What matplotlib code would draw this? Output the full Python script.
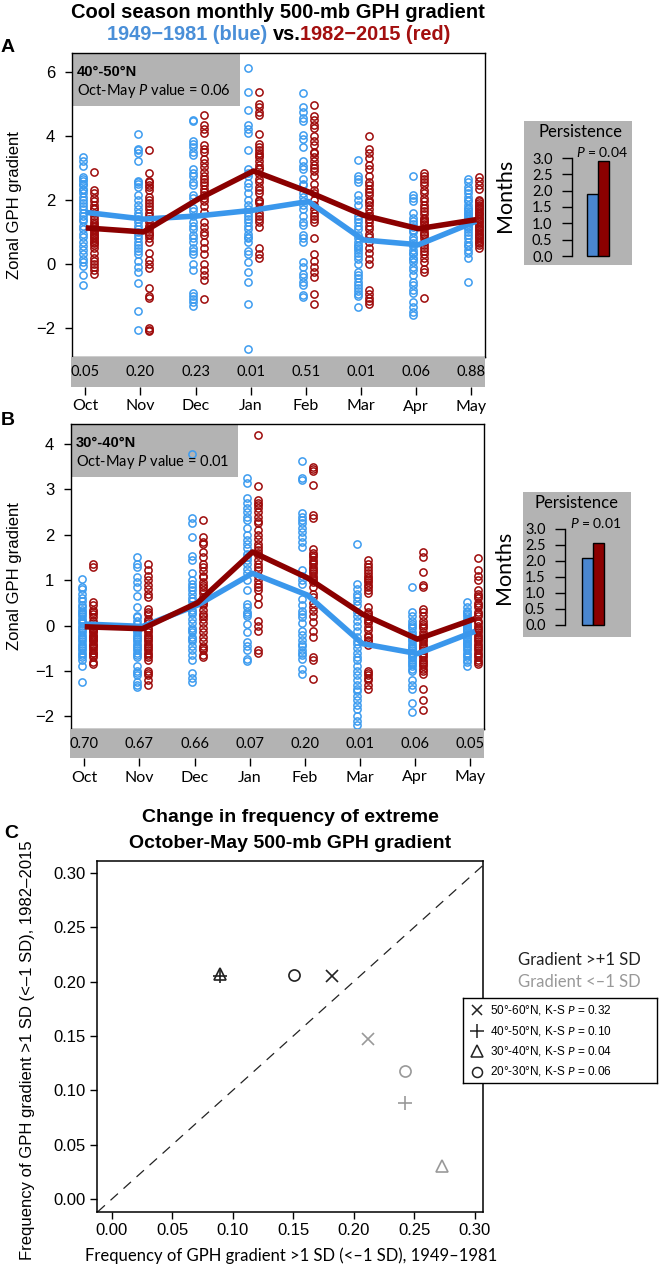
import matplotlib
matplotlib.use('Agg')
import matplotlib.pyplot as plt
from matplotlib.patches import Rectangle
import numpy as np

plt.rcParams['font.family'] = ['Liberation Sans', 'DejaVu Sans']
plt.rcParams['mathtext.fontset'] = 'custom'
plt.rcParams['mathtext.it'] = 'Lato:italic'
plt.rcParams['mathtext.rm'] = 'Lato'

HUM = ['Lato', 'DejaVu Sans']   # humanist face for the Myriad-looking labels
W, H = 660, 1269
GRAY = '#b3b3b3'
BLUE_DOT, RED_DOT = '#3d9cf0', '#9e0b0b'
BLUE_LINE, RED_LINE = '#3a97ec', '#8b0000'

months = ['Oct', 'Nov', 'Dec', 'Jan', 'Feb', 'Mar', 'Apr', 'May']

# ---- panel A, 40-50N: yearly values per month, 1949-1981 (blue) and 1982-2015 (red)
a_blue = [
    [3.35, 3.2, 3.05, 2.7, 2.65, 2.6, 2.5, 2.45, 2.35, 2.2, 2.1, 2.0, 1.9, 1.8, 1.7, 1.6, 1.5,
     1.4, 1.35, 1.2, 1.1, 0.95, 0.85, 0.7, 0.55, 0.45, 0.3, 0.15, 0.05, -0.05, -0.35, -0.65, 2.3],
    [4.05, 3.6, 3.55, 3.45, 3.2, 2.6, 2.5, 2.4, 2.15, 2.0, 1.85, 1.7, 1.6, 1.5, 1.4, 1.3, 1.2,
     1.1, 1.0, 0.9, 0.8, 0.7, 0.6, 0.5, 0.4, 0.3, 0.1, -0.1, -0.25, -0.6, -1.45, -2.05, 2.55],
    [4.5, 4.45, 3.85, 3.75, 3.65, 3.5, 3.4, 2.95, 2.85, 2.75, 2.55, 2.45, 2.15, 2.05, 1.75, 1.65,
     1.3, 1.2, 1.1, 0.9, 0.8, 0.7, 0.5, 0.4, 0.3, 0.0, -0.2, -0.9, -1.0, -1.1, -1.2, -1.3, 1.5],
    [6.1, 5.37, 4.8, 4.33, 4.2, 4.1, 3.55, 2.95, 2.85, 2.75, 2.53, 2.4, 2.2, 2.0, 1.85, 1.7, 1.6,
     1.5, 1.4, 1.3, 1.1, 0.95, 0.85, 0.8, 0.7, 0.4, 0.3, 0.07, -0.25, -0.55, -1.24, -2.65, 1.2],
    [5.32, 4.9, 4.75, 4.55, 4.45, 4.03, 3.9, 3.65, 3.2, 3.05, 2.95, 2.65, 2.45, 2.22, 2.1, 1.95,
     1.83, 1.7, 1.32, 1.22, 0.9, 0.8, 0.7, 0.05, -0.1, -0.3, -0.4, -0.55, -0.65, -0.98, -1.03, 1.5, 2.5],
    [3.25, 2.75, 2.65, 2.55, 2.15, 2.0, 1.83, 1.5, 1.4, 1.32, 0.9, 0.8, 0.7, 0.6, 0.5, 0.45, 0.35,
     0.25, 0.15, 0.0, -0.25, -0.35, -0.45, -0.55, -0.65, -0.75, -0.85, -0.95, -1.0, -1.35, 1.1, 0.55, 1.2],
    [2.75, 2.15, 2.05, 1.95, 1.45, 1.35, 1.25, 1.15, 1.05, 1.0, 0.85, 0.75, 0.65, 0.55, 0.45, 0.35,
     0.3, 0.15, 0.05, -0.1, -0.2, -0.35, -0.55, -0.65, -0.8, -0.9, -1.2, -1.35, -1.5, -1.6, 0.6, 0.2, 1.6],
    [2.65, 2.55, 2.4, 2.3, 2.2, 2.1, 1.95, 1.85, 1.75, 1.7, 1.6, 1.55, 1.5, 1.45, 1.4, 1.35, 1.3,
     1.25, 1.2, 1.15, 1.1, 0.9, 0.8, 0.7, 0.55, 0.45, 0.35, 0.2, -0.55, 1.0, 1.65, 2.0, 0.6],
]
a_red = [
    [2.88, 2.3, 2.2, 2.05, 1.95, 1.85, 1.75, 1.6, 1.5, 1.4, 1.3, 1.25, 1.2, 1.15, 1.1, 1.05, 1.0,
     0.95, 0.9, 0.85, 0.8, 0.75, 0.7, 0.65, 0.6, 0.5, 0.35, 0.2, 0.1, 0.0, -0.1, -0.2, -0.3, 1.7],
    [3.57, 2.83, 2.6, 2.55, 2.45, 2.4, 2.1, 2.0, 1.9, 1.8, 1.7, 1.6, 1.5, 1.3, 1.2, 1.1, 0.9, 0.8,
     0.7, 0.33, 0.13, 0.0, -0.12, -0.75, -1.07, -1.0, -2.0, -2.05, -2.1, 1.0, 1.15, 0.95, 2.3, 1.4],
    [4.65, 4.33, 4.2, 4.1, 3.7, 3.6, 3.5, 3.28, 3.15, 3.03, 2.88, 2.75, 2.65, 2.55, 2.45, 2.35, 2.25,
     1.95, 1.8, 1.63, 1.3, 1.15, 1.0, 0.9, 0.7, 0.5, 0.3, 0.0, -0.2, -0.35, -0.5, -1.1, 2.05, 2.15],
    [5.37, 5.0, 4.9, 4.75, 4.65, 4.05, 3.75, 3.65, 3.55, 3.45, 3.4, 3.2, 3.1, 3.0, 2.95, 2.65, 2.55,
     2.3, 2.2, 2.0, 1.95, 1.9, 1.74, 1.6, 1.5, 1.4, 1.32, 1.15, 0.5, 0.3, 0.2, 3.35, 2.8, 2.4],
    [4.95, 4.6, 4.5, 4.35, 4.25, 3.98, 3.85, 3.7, 3.5, 3.35, 3.2, 3.1, 3.0, 2.9, 2.75, 2.3, 2.22,
     1.83, 1.7, 1.6, 1.5, 1.4, 1.32, 0.8, 0.3, 0.1, -0.1, -0.25, -0.4, -0.92, -1.24, 2.5, 2.0, 3.45],
    [3.98, 3.6, 3.45, 3.3, 3.1, 2.95, 2.75, 2.55, 2.45, 2.35, 2.25, 2.15, 2.0, 1.93, 1.83, 1.7, 1.6,
     1.5, 1.4, 1.32, 1.1, 0.95, 0.85, 0.7, 0.5, 0.35, 0.15, 0.0, -0.8, -0.95, -1.05, -1.15, -1.25, 1.2],
    [2.85, 2.75, 2.65, 2.55, 2.45, 2.3, 2.2, 2.05, 1.95, 1.85, 1.75, 1.65, 1.55, 1.45, 1.35, 1.25,
     1.15, 1.1, 0.9, 0.8, 0.7, 0.6, 0.5, 0.4, 0.3, 0.2, 0.07, -0.15, -0.25, -1.05, 1.0, 0.95, 1.3, 1.4],
    [2.7, 2.6, 2.45, 2.35, 2.0, 1.95, 1.9, 1.85, 1.8, 1.75, 1.7, 1.65, 1.6, 1.55, 1.5, 1.45, 1.4,
     1.35, 1.3, 1.25, 1.2, 1.15, 1.1, 1.05, 1.0, 0.95, 0.9, 0.85, 0.8, 0.75, 0.7, 0.65, 0.6, 0.5],
]
a_blue_mean = [1.6, 1.4, 1.5, 1.68, 1.95, 0.75, 0.6, 1.3]
a_red_mean = [1.12, 1.0, 2.03, 2.9, 2.25, 1.52, 1.1, 1.37]
a_pvals = ['0.05', '0.20', '0.23', '0.01', '0.51', '0.01', '0.06', '0.88']
a_persist = [1.9, 2.92]

# ---- panel B, 30-40N
b_blue = [
    [1.03, 0.85, 0.8, 0.7, 0.6, 0.55, 0.45, 0.35, 0.3, 0.2, 0.15, 0.05, 0.0, -0.05, -0.1, -0.15, -0.2,
     -0.25, -0.3, -0.35, -0.4, -0.45, -0.5, -0.55, -0.6, -0.65, -0.9, -1.25, 0.25, -0.7, 0.1, 0.4, -0.75],
    [1.5, 1.36, 1.3, 1.06, 0.95, 0.85, 0.66, 0.4, 0.2, 0.18, 0.03, -0.05, -0.15, -0.25, -0.3, -0.35,
     -0.4, -0.45, -0.5, -0.6, -0.7, -0.9, -1.0, -1.05, -1.1, -1.25, -1.3, -1.36, -0.55, -0.1, 0.1, -0.65, -0.2],
    [3.78, 2.36, 2.25, 1.95, 1.54, 1.44, 1.15, 1.0, 0.92, 0.85, 0.78, 0.55, 0.45, 0.35, 0.25, 0.15, 0.05,
     -0.05, -0.15, -0.25, -0.35, -0.45, -0.55, -0.65, -0.75, -1.05, -1.15, -1.25, 0.7, -0.3, 0.3, -0.1, 0.6],
    [3.24, 3.14, 2.8, 2.7, 2.6, 2.4, 2.32, 2.14, 2.0, 1.88, 1.8, 1.7, 1.58, 1.44, 1.35, 1.25, 1.15,
     0.78, 0.48, 0.4, 0.3, 0.26, 0.04, -0.15, -0.37, -0.55, -0.74, -0.78, -0.45, 1.0, 1.5, 2.5, 0.2],
    [3.62, 3.24, 3.2, 2.47, 2.4, 2.32, 2.25, 2.15, 2.05, 1.95, 1.85, 1.73, 1.22, 1.1, 0.92, 0.59, 0.45,
     0.33, 0.18, 0.05, -0.11, -0.33, -0.45, -0.55, -0.65, -0.74, -0.4, -0.96, -1.07, -0.6, 1.0, 0.25, -0.2],
    [1.8, 0.92, 0.8, 0.7, 0.63, 0.55, 0.45, 0.3, 0.2, 0.1, -0.11, -0.4, -0.5, -0.6, -0.77, -0.35, -0.9,
     -1.0, -1.1, -1.2, -1.3, -1.4, -1.45, -1.55, -1.65, -1.75, -1.85, -2.0, -2.1, -2.2, 0.0, -0.25, -0.7],
    [0.85, 0.3, 0.2, 0.11, 0.04, -0.05, -0.15, -0.25, -0.35, -0.4, -0.45, -0.5, -0.55, -0.6, -0.65,
     -0.7, -0.75, -0.8, -0.85, -0.9, -0.95, -1.2, -1.3, -1.4, -1.7, -1.9, -0.3, -0.6, -0.2, 0.0, -1.0, -0.5, -0.7],
    [0.52, 0.41, 0.33, 0.25, 0.15, 0.05, -0.05, -0.1, -0.15, -0.2, -0.25, -0.3, -0.35, -0.4, -0.45,
     -0.5, -0.55, -0.6, -0.65, -0.7, -0.75, -0.89, 0.0, 0.1, 0.2, -0.02, -0.08, -0.12, -0.18, -0.28, -0.38, 0.3, -0.8],
]
b_red = [
    [1.36, 1.3, 0.52, 0.45, 0.35, 0.26, 0.18, 0.1, 0.05, 0.0, -0.05, -0.1, -0.15, -0.2, -0.25, -0.3, -0.35,
     -0.4, -0.45, -0.5, -0.55, -0.6, -0.65, -0.7, -0.8, -0.85, -0.02, -0.08, -0.12, -0.22, -0.32, -0.42, 0.3, -0.6],
    [1.36, 1.22, 1.1, 1.0, 0.9, 0.8, 0.7, 0.63, 0.37, 0.25, 0.15, 0.05, -0.05, -0.1, -0.2, -0.3, -0.4, -0.45,
     -0.5, -0.55, -0.6, -0.65, -0.7, -0.75, -1.0, -1.05, -1.1, -1.2, -1.3, 0.3, -0.15, -0.25, 0.1, -0.35],
    [2.32, 1.95, 1.85, 1.8, 1.63, 1.5, 1.36, 1.28, 1.2, 1.1, 1.06, 0.96, 0.85, 0.78, 0.71, 0.63, 0.55, 0.45,
     0.35, 0.25, 0.15, 0.05, -0.05, -0.15, -0.25, -0.35, -0.45, -0.5, -0.55, -0.65, -0.7, 0.5, 0.2, 0.9],
    [4.2, 3.07, 2.77, 2.7, 2.6, 2.5, 2.4, 2.3, 2.25, 2.1, 2.0, 1.9, 1.8, 1.73, 1.66, 1.55, 1.45, 1.36,
     1.22, 1.1, 1.0, 0.92, 0.78, 0.63, 0.48, 0.11, 0.0, -0.11, -0.55, -0.6, 1.6, 2.65, 1.3, 0.85],
    [3.5, 3.45, 3.4, 3.09, 2.43, 2.36, 1.69, 1.6, 1.5, 1.4, 1.3, 1.2, 1.1, 1.0, 0.85, 0.63, 0.41, 0.33,
     0.07, -0.11, -0.26, -0.7, -0.75, -1.18, 1.55, 1.35, 1.25, 1.45, 0.7, 0.2, 1.05, 0.95, 1.15, 0.5],
    [1.44, 1.35, 1.3, 1.22, 1.15, 1.1, 1.0, 0.95, 0.85, 0.78, 0.71, 0.3, 0.2, 0.11, -0.03, -0.1, -0.2,
     -0.33, -0.35, -0.42, -1.0, -1.05, -1.1, -1.15, -1.2, -1.3, -1.4, 0.25, 0.15, 0.4, -0.25, 0.05, 1.05, 0.9],
    [1.63, 1.5, 1.19, 0.89, 0.85, 0.37, 0.3, 0.2, 0.1, 0.04, -0.05, -0.15, -0.25, -0.35, -0.45, -0.5, -0.55,
     -0.6, -0.65, -0.7, -0.75, -0.8, -0.85, -0.9, -0.95, -1.0, -1.07, -1.4, -1.65, -1.87, -0.3, -0.4, -0.2, 0.0],
    [1.48, 1.22, 1.1, 1.0, 0.78, 0.7, 0.6, 0.5, 0.4, 0.3, 0.2, 0.1, 0.0, -0.1, -0.2, -0.3, -0.35, -0.4,
     -0.45, -0.5, -0.55, -0.6, -0.65, -0.7, -0.75, -0.8, -0.85, 0.65, 0.45, 0.25, 0.05, -0.05, -0.15, -0.25],
]
b_blue_mean = [0.03, -0.02, 0.45, 1.15, 0.67, -0.4, -0.62, -0.15]
b_red_mean = [-0.03, -0.07, 0.5, 1.62, 1.05, 0.25, -0.3, 0.13]
b_pvals = ['0.70', '0.67', '0.66', '0.07', '0.20', '0.01', '0.06', '0.05']
b_persist = [2.08, 2.55]

# ---- panel C: frequency of extremes, one row per latitude band
c_bands = ['50°-60°N', '40°-50°N', '30°-40°N', '20°-30°N']
c_markers = ['x', '+', '^', 'o']
c_sizes = [8, 10.5, 9, 8]
c_ks_p = ['0.32', '0.10', '0.04', '0.06']
c_pos_early = [0.182, 0.089, 0.089, 0.151]   # gradient > +1 SD
c_pos_late = [0.205, 0.205, 0.207, 0.206]
c_neg_early = [0.212, 0.2425, 0.273, 0.2425]  # gradient < -1 SD
c_neg_late = [0.147, 0.088, 0.030, 0.118]

fig = plt.figure(figsize=(W / 100, H / 100), dpi=100)
renderer = fig.canvas.get_renderer()


def box(l, t, r, b):
    return [l / W, 1 - b / H, (r - l) / W, (b - t) / H]


def ftext(x, y, s, **kw):
    kw.setdefault('ha', 'center')
    kw.setdefault('va', 'center')
    return fig.text(x / W, 1 - y / H, s, **kw)


def rich_line(cx, y, pieces, size, weight='bold'):
    # pieces: (text, colour, gap before in px)
    texts = [ftext(0, y, s, color=c, fontsize=size, fontweight=weight, ha='left') for s, c, g in pieces]
    widths = [t.get_window_extent(renderer).width for t in texts]
    total = sum(widths) + sum(g for _, _, g in pieces)
    x = cx - total / 2
    for t, w, (_, _, g) in zip(texts, widths, pieces):
        x += g
        t.set_x(x / W)
        x += w


def month_panel(l, t, r, b, ylim, yticks, blue, red, blue_mean, red_mean, pvals,
                band, p_all, lab_r, lab_b, strip_h):
    ax = fig.add_axes(box(l, t, r, b))
    xlim = (-0.2, 7.31)
    for i in range(len(months)):
        ax.plot(np.full(len(blue[i]), i), blue[i], 'o', mfc='none', mec=BLUE_DOT, ms=5.2, mew=1.1, zorder=3)
        ax.plot(np.full(len(red[i]), i + 0.2), red[i], 'o', mfc='none', mec=RED_DOT, ms=5.2, mew=1.1, zorder=3)
    xs = np.arange(len(months)) + 0.1
    ax.plot(xs, blue_mean, color=BLUE_LINE, lw=4, zorder=4)
    ax.plot(xs, red_mean, color=RED_LINE, lw=4, zorder=5)
    ax.set_xlim(xlim)
    ax.set_ylim(ylim)
    ax.set_xticks([])
    ax.set_yticks(yticks)
    ax.tick_params(axis='y', length=5, width=1, labelsize=12, pad=7)
    for s in ax.spines.values():
        s.set_linewidth(1.0)
    ax.set_ylabel('Zonal GPH gradient', fontsize=12)
    ax.yaxis.set_label_coords((22 - l) / (r - l), 0.5)
    hw, hh = (lab_r - l) / (r - l), (lab_b - t) / (b - t)
    ax.add_patch(Rectangle((0, 1 - hh), hw, hh, transform=ax.transAxes, fc=GRAY, ec='none', zorder=1))
    ftext(l + 5, t + 19, band, fontsize=10.5, fontweight='bold', ha='left')
    ftext(l + 5, t + 38, 'Oct-May $P$ value = ' + p_all, fontsize=10.5, family=HUM, ha='left')

    sax = fig.add_axes(box(l - 1, b, r, b + strip_h))
    sax.set_facecolor(GRAY)
    for s in sax.spines.values():
        s.set_visible(False)
    sax.set_xlim(xlim)
    sax.set_ylim(0, 1)
    ticks = np.arange(len(months)) + 0.06
    for x, p in zip(ticks, pvals):
        sax.text(x, 0.5, p, ha='center', va='center', fontsize=10.5, family=HUM)
    sax.set_yticks([])
    sax.set_xticks(ticks)
    sax.set_xticklabels(months, family=HUM, fontsize=11.5)
    sax.tick_params(axis='x', length=6, width=1, pad=3)
    return ax


def persistence(l, t, r, b, y0, y3, spine_x, bar_x, vals, ptxt, title_xy, p_xy, months_xy):
    ax = fig.add_axes(box(l, t, r, b))
    ax.set_facecolor(GRAY)
    ppu = (y0 - y3) / 3
    ax.set_ylim(-(b - y0) / ppu, 3 + (y3 - t) / ppu)
    unit = 11.0
    ax.set_xlim(0, (r - l) / unit)
    for s in ['top', 'right', 'bottom']:
        ax.spines[s].set_visible(False)
    ax.spines['left'].set_position(('data', (spine_x - l) / unit))
    ax.spines['left'].set_bounds(0, 3)
    ax.spines['left'].set_linewidth(1.0)
    ax.set_xticks([])
    ticks = np.arange(0, 3.01, 0.5)
    ax.set_yticks(ticks)
    ax.set_yticklabels([f'{v:.1f}' for v in ticks], family=HUM, fontsize=10.5)
    ax.tick_params(axis='y', length=7, width=1, pad=7)
    x0 = (bar_x - l) / unit
    ax.bar([x0, x0 + 1], vals, width=1, align='edge', color=['#4a86cf', '#8b0000'],
           edgecolor='black', lw=1)
    ftext(*title_xy, 'Persistence', fontsize=12, family=HUM)
    ftext(*p_xy, '$P$ = ' + ptxt, fontsize=10, family=HUM)
    ftext(*months_xy, 'Months', fontsize=15.5, family=HUM, rotation=90)


# titles and panel letters
ftext(278, 13, 'Cool season monthly 500-mb GPH gradient', fontsize=14.5, fontweight='bold')
rich_line(279, 35, [('1949−1981 (blue)', '#4a8fd8', 0), ('vs.', 'black', 5),
                    ('1982−2015 (red)', '#a30f0f', 0)], 14.4)
ftext(8, 47, 'A', fontsize=14, fontweight='bold')
ftext(8, 421, 'B', fontsize=14, fontweight='bold')
ftext(11, 834, 'C', fontsize=14, fontweight='bold')

month_panel(72, 53, 485, 357, (-2.9, 6.58), [-2, 0, 2, 4, 6], a_blue, a_red, a_blue_mean, a_red_mean,
            a_pvals, '40°-50°N', '0.06', 240, 106, 30)
month_panel(71, 424, 484, 729, (-2.28, 4.44), [-2, -1, 0, 1, 2, 3, 4], b_blue, b_red, b_blue_mean,
            b_red_mean, b_pvals, '30°-40°N', '0.01', 238, 477, 29)

persistence(524, 121, 632, 265, 256, 158, 572, 587, a_persist, '0.04', (581, 132), (602, 152), (505, 195))
persistence(523, 492, 631, 637, 625, 529, 565, 582, b_persist, '0.01', (577, 503), (596, 523), (504, 567))

# ---- panel C
ax = fig.add_axes(box(97, 861, 483, 1212))
ax.axline((0, 0), slope=1, color='#222222', lw=0.9, ls=(0, (8, 6)), zorder=1)
for i in range(len(c_bands)):
    filled = c_markers[i] in ('x', '+')
    ax.plot(c_pos_early[i], c_pos_late[i], c_markers[i], ms=c_sizes[i], mew=1.2,
            mec='#222222', mfc='none' if not filled else '#222222', zorder=3)
    ax.plot(c_neg_early[i], c_neg_late[i], c_markers[i], ms=c_sizes[i], mew=1.2,
            mec='#999999', mfc='none' if not filled else '#999999', zorder=3)
ax.set_xlim(-0.0124, 0.307)
ax.set_ylim(-0.012, 0.311)
cticks = np.arange(0, 0.301, 0.05)
ax.set_xticks(cticks)
ax.set_yticks(cticks)
ax.set_xticklabels([f'{v:.2f}' for v in cticks])
ax.set_yticklabels([f'{v:.2f}' for v in cticks])
ax.tick_params(length=5, width=1, labelsize=12, pad=3)
for s in ax.spines.values():
    s.set_linewidth(1.1)
ax.set_ylabel('Frequency of GPH gradient >1 SD (<–1 SD), 1982–2015', fontsize=12)
ax.yaxis.set_label_coords((35 - 97) / 386, 1 - (1050 - 861) / 351)
ax.set_xlabel('Frequency of GPH gradient >1 SD (<–1 SD), 1949–1981', fontsize=12, family=HUM)
ax.xaxis.label.set_va('center')
ax.xaxis.set_label_coords((291 - 97) / 386, -(1256 - 1212) / 351)
ftext(290, 818, 'Change in frequency of extreme', fontsize=14, fontweight='bold')
ftext(290, 843, 'October-May 500-mb GPH gradient', fontsize=14, fontweight='bold')

ftext(518, 960, 'Gradient >+1 SD', fontsize=12, family=HUM, ha='left', color='#222222')
ftext(518, 982, 'Gradient <–1 SD', fontsize=12, family=HUM, ha='left', color='#999999')

lax = fig.add_axes(box(463, 998, 657, 1083))
lax.set_xlim(0, 194)
lax.set_ylim(85, 0)
lax.set_xticks([])
lax.set_yticks([])
for s in lax.spines.values():
    s.set_linewidth(1.0)
for i in range(len(c_bands)):
    yy = 12 + i * 20.5
    lax.plot(14, yy, c_markers[i], ms=c_sizes[i] * 0.9, mew=1.1, mec='#222222', mfc='none', color='#222222')
    lax.text(27, yy, f'{c_bands[i]}, K-S $P$ = {c_ks_p[i]}', fontsize=8.5, va='center', ha='left')

fig.savefig('out.png', dpi=100)
